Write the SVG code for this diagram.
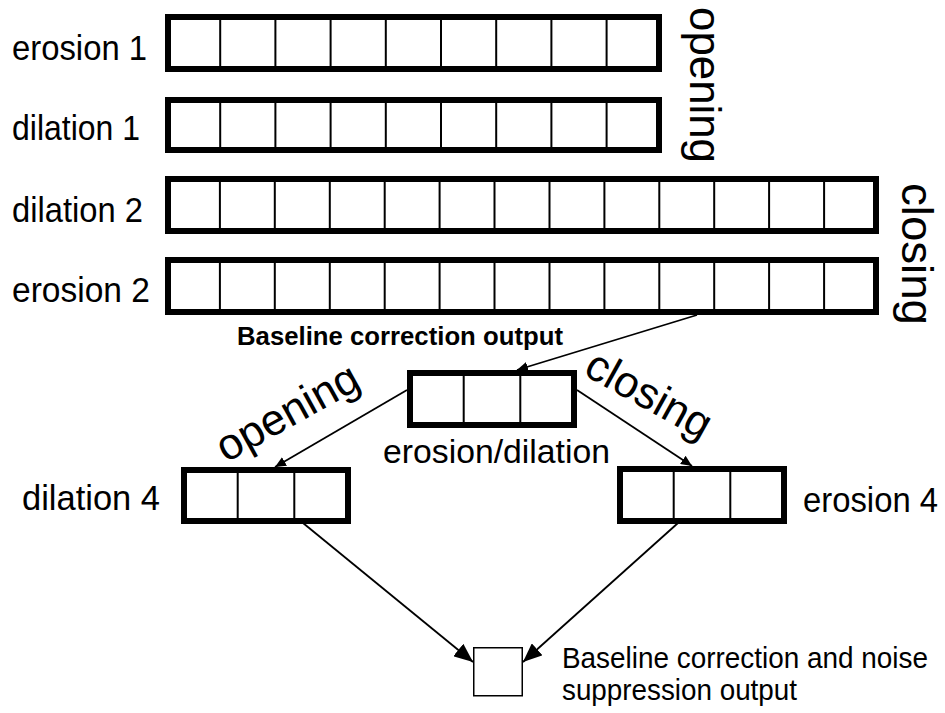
<svg xmlns="http://www.w3.org/2000/svg" width="945" height="713" viewBox="0 0 945 713">
  <style>
    .frame { fill: #fff; stroke: #000; stroke-width: 6; }
    .cell { stroke: #000; stroke-width: 2; }
    .lbl { font-family: "Liberation Sans", Arial, sans-serif; fill: #000; }
    .big { font-size: 35px; }
    .mid { font-size: 44px; }
    .link { stroke: #000; stroke-width: 1.8; fill: none; }
    .out { fill: #fff; stroke: #000; stroke-width: 1.5; }
  </style>
  <defs>
    <marker id="headS" markerUnits="userSpaceOnUse" markerWidth="12" markerHeight="10" refX="11" refY="5" orient="auto">
      <path d="M0,0 L11,5 L0,10 z" fill="#000"/>
    </marker>
    <marker id="headL" markerUnits="userSpaceOnUse" markerWidth="20" markerHeight="16" refX="19" refY="8" orient="auto">
      <path d="M0,0 L19,8 L0,16 z" fill="#000"/>
    </marker>
  </defs>

  <!-- opening stage: erosion 1 -->
  <g id="erosion1">
    <rect class="frame" x="168" y="17" width="491" height="52"/>
    <path class="cell" d="M220.2,17V69 M275.4,17V69 M330.6,17V69 M385.8,17V69 M441,17V69 M496.2,17V69 M551.4,17V69 M606.6,17V69"/>
    <text class="lbl big" x="12" y="60" textLength="135" lengthAdjust="spacingAndGlyphs">erosion 1</text>
  </g>

  <!-- opening stage: dilation 1 -->
  <g id="dilation1">
    <rect class="frame" x="168" y="100" width="491" height="50"/>
    <path class="cell" d="M220.2,100V150 M275.4,100V150 M330.6,100V150 M385.8,100V150 M441,100V150 M496.2,100V150 M551.4,100V150 M606.6,100V150"/>
    <text class="lbl big" x="12" y="140" textLength="128" lengthAdjust="spacingAndGlyphs">dilation 1</text>
  </g>

  <!-- closing stage: dilation 2 -->
  <g id="dilation2">
    <rect class="frame" x="168" y="179" width="708" height="52"/>
    <path class="cell" d="M219.9,179V231 M274.8,179V231 M329.8,179V231 M384.7,179V231 M439.6,179V231 M494.5,179V231 M549.5,179V231 M604.4,179V231 M659.3,179V231 M714.2,179V231 M769.1,179V231 M824.1,179V231"/>
    <text class="lbl big" x="12" y="222" textLength="131" lengthAdjust="spacingAndGlyphs">dilation 2</text>
  </g>

  <!-- closing stage: erosion 2 -->
  <g id="erosion2">
    <rect class="frame" x="168" y="260" width="708" height="52"/>
    <path class="cell" d="M219.9,260V312 M274.8,260V312 M329.8,260V312 M384.7,260V312 M439.6,260V312 M494.5,260V312 M549.5,260V312 M604.4,260V312 M659.3,260V312 M714.2,260V312 M769.1,260V312 M824.1,260V312"/>
    <text class="lbl big" x="12" y="302" textLength="138" lengthAdjust="spacingAndGlyphs">erosion 2</text>
  </g>

  <!-- side captions -->
  <g id="opening-caption">
    <text class="lbl mid" transform="translate(690,7) rotate(90)" textLength="156" lengthAdjust="spacingAndGlyphs">opening</text>
  </g>
  <g id="closing-caption">
    <text class="lbl mid" transform="translate(902,183) rotate(90)" textLength="142" lengthAdjust="spacingAndGlyphs">closing</text>
  </g>

  <g id="baseline-caption">
    <text class="lbl" x="237" y="345" font-size="26" font-weight="bold" textLength="326" lengthAdjust="spacingAndGlyphs">Baseline correction output</text>
  </g>

  <!-- shared erosion/dilation window -->
  <g id="erosion-dilation">
    <rect class="frame" x="410" y="373" width="164" height="52"/>
    <path class="cell" d="M463.7,373V425 M520.3,373V425"/>
    <text class="lbl" x="383" y="463" font-size="34" textLength="227" lengthAdjust="spacingAndGlyphs">erosion/dilation</text>
  </g>

  <g id="opening-branch">
    <text class="lbl mid" transform="translate(226,463) rotate(-29)">opening</text>
  </g>
  <g id="closing-branch">
    <text class="lbl" font-size="44" transform="translate(582,374) rotate(29)">closing</text>
  </g>

  <g id="dilation4">
    <rect class="frame" x="184" y="470" width="164" height="51"/>
    <path class="cell" d="M237.7,470V521 M294.3,470V521"/>
    <text class="lbl" x="22" y="510" font-size="35" textLength="138" lengthAdjust="spacingAndGlyphs">dilation 4</text>
  </g>

  <g id="erosion4">
    <rect class="frame" x="620" y="469" width="164" height="52"/>
    <path class="cell" d="M673.7,469V521 M730.3,469V521"/>
    <text class="lbl" x="803" y="512" font-size="35" textLength="135" lengthAdjust="spacingAndGlyphs">erosion 4</text>
  </g>

  <g id="output">
    <rect class="out" x="473.75" y="647.75" width="48.5" height="48"/>
    <text class="lbl" x="562" y="668" font-size="29" textLength="366" lengthAdjust="spacingAndGlyphs">Baseline correction and noise</text>
    <text class="lbl" x="562" y="700" font-size="29" textLength="235" lengthAdjust="spacingAndGlyphs">suppression output</text>
  </g>

  <g id="connectors">
    <line class="link" x1="697" y1="315" x2="517" y2="370" marker-end="url(#headS)"/>
    <line class="link" x1="407" y1="390" x2="275" y2="467" marker-end="url(#headS)"/>
    <line class="link" x1="577" y1="390" x2="692" y2="466" marker-end="url(#headS)"/>
    <line class="link" x1="303" y1="523" x2="473" y2="662" marker-end="url(#headL)"/>
    <line class="link" x1="678" y1="523" x2="523" y2="662" marker-end="url(#headL)"/>
  </g>
</svg>
